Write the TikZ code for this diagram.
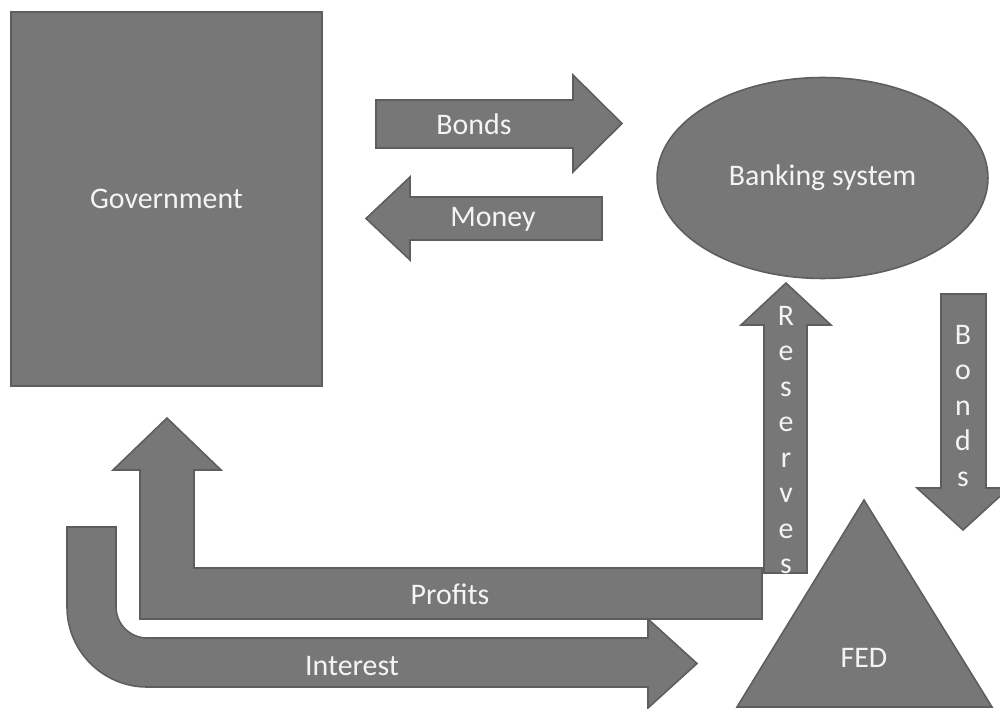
\documentclass[tikz,border=0pt]{standalone}
\usepackage{fontspec}
\setmainfont{Carlito}
\usetikzlibrary{shapes.geometric}
\definecolor{shapegray}{HTML}{777777}
\definecolor{edgegray}{HTML}{5E5E5E}
\definecolor{txtwhite}{HTML}{F4F4F4}
\tikzset{
  blk/.style={fill=shapegray,draw=edgegray,line width=0.9pt,line join=miter},
  lbl/.style={text=txtwhite,font=\fontsize{17}{20.2}\selectfont,inner sep=0pt},
}
\begin{document}
\begin{tikzpicture}[x=0.02cm,y=-0.02cm]
\useasboundingbox (0,0) rectangle (1000,709);
% government and banks
\node[blk,rectangle,minimum width=6.22cm,minimum height=7.48cm,lbl,text=txtwhite] (gov) at (166.5,199) {Government};
\node[blk,ellipse,minimum width=6.62cm,minimum height=4.02cm,lbl,text=txtwhite] (bank) at (822.5,178) {Banking system};
% bonds and money
\draw[blk] (376,100) -- (573,100) -- (573,75) -- (622,123.5) -- (573,172) -- (573,148) -- (376,148) -- cycle;
\node[lbl] (bonds) at (474,124) {Bonds};
\draw[blk] (602,197) -- (410,197) -- (410,177) -- (366,218.5) -- (410,260) -- (410,240) -- (602,240) -- cycle;
\node[lbl] (money) at (493,219) {Money};
% reserves and bonds to the fed
\draw[blk] (764,573) -- (764,325) -- (741,325) -- (786,283) -- (831,325) -- (807,325) -- (807,573) -- cycle;
\node[lbl,align=center] (resv) at (786,440) {R\\e\\s\\e\\r\\v\\e\\s};
\draw[blk] (941,294) -- (986,294) -- (986,488) -- (1009,488) -- (963,530) -- (917,488) -- (941,488) -- cycle;
\node[lbl,align=center] (fedbonds) at (963,406) {B\\o\\n\\d\\s};
% fed
\draw[blk] (737,707) -- (864,500) -- (992,707) -- cycle;
\node[lbl] (fed) at (864,658) {FED};
% profits and interest
\draw[blk] (762,568) -- (194,568) -- (194,470) -- (221,470) -- (167,418) -- (113,470) -- (140,470) -- (140,619) -- (762,619) -- cycle;
\node[lbl] (profits) at (450,594) {Profits};
\draw[blk] (67,527) -- (116,527) -- (116,607) .. controls (116,624) and (130,638) .. (147,638) -- (648,638) -- (648,619) -- (697,663.5) -- (648,708) -- (648,687) -- (147,687) .. controls (103,687) and (67,651) .. (67,607) -- cycle;
\node[lbl] (interest) at (352,666) {Interest};
\end{tikzpicture}
\end{document}
